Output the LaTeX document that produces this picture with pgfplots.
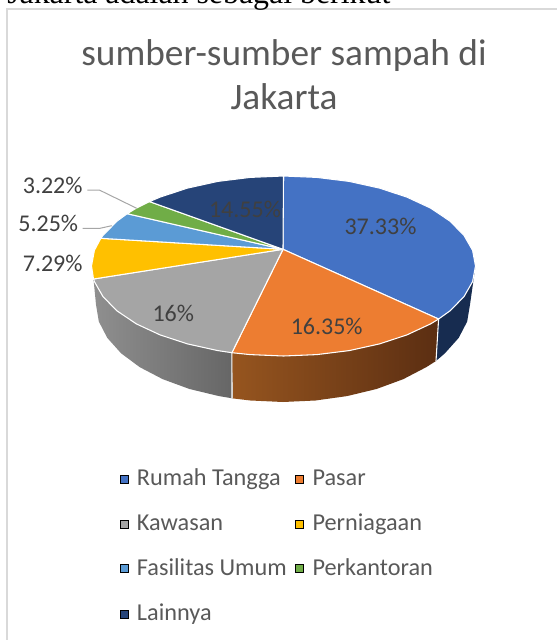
\documentclass[border=0pt]{standalone}
\usepackage{pgfplots}
\pgfplotsset{compat=1.18}
\usepackage{fontspec}
\setmainfont{Carlito}
\newfontfamily\bodyserif{Liberation Serif}
\definecolor{cBlue}{HTML}{4472C4}
\definecolor{cOrange}{HTML}{ED7D31}
\definecolor{cGray}{HTML}{A5A5A5}
\definecolor{cYellow}{HTML}{FFC000}
\definecolor{cSky}{HTML}{5B9BD5}
\definecolor{cGreen}{HTML}{70AD47}
\definecolor{cNavy}{HTML}{264478}
\definecolor{cTitle}{HTML}{595959}
\definecolor{cLabel}{HTML}{404040}
\definecolor{cLeader}{HTML}{A6A6A6}
\definecolor{cFrame}{HTML}{D9D9D9}
\definecolor{cSideB}{HTML}{172C50}
\definecolor{cOrL}{HTML}{96551F}
\definecolor{cOrM}{HTML}{6B3814}
\definecolor{cOrR}{HTML}{5B2E12}
\definecolor{cGrL}{HTML}{8F8F8F}
\definecolor{cGrR}{HTML}{666666}
\tikzset{
  wedge/.style={draw=white, line width=0.8pt, line join=round},
  lab/.style={font=\fontsize{18pt}{20pt}\selectfont, text=cLabel, inner sep=0pt},
  leg/.style={font=\fontsize{18.2pt}{20pt}\selectfont, text=cTitle, inner sep=0pt, anchor=base west},
  tit/.style={font=\fontsize{28pt}{30pt}\selectfont, text=cTitle, inner sep=0pt, anchor=base},
}
\begin{document}
\begin{tikzpicture}
\path[use as bounding box] (0,0) rectangle (417.75pt,480pt);
\clip (0,0) rectangle (417.75pt,480pt);
\begin{axis}[
  at={(0,0)}, anchor=south west,
  scale only axis, width=417.75pt, height=480pt,
  xmin=0, xmax=557, ymin=0, ymax=640, y dir=reverse,
  hide axis, clip=false,
]
% chart frame
\addplot[draw=cFrame, line width=1.5pt] coordinates {(7,640) (7,9.2) (557,9.2)};
% side walls
\addplot[fill=cSideB, draw=none] coordinates {
 (475.5,266) (472.6,281.6) (463.9,296.8) (449.8,311) (438.6,319)
 (436,361) (444.9,353.3) (458.7,337.9) (467.2,321.5) (470,304.6)} -- cycle;
\addplot[draw=none, left color=cOrL, middle color=cOrM, right color=cOrR] coordinates {
 (438.6,319) (430.6,323.9) (406.9,334.9) (379.5,343.9) (349.2,350.6) (316.8,354.6) (283.5,356) (250.2,354.6) (231.9,352.7)
 (232.7,398.4) (250.5,400.5) (283,402) (315.5,400.5) (347,396.1) (376.5,389) (403.2,379.2) (426.2,367.2) (436,361)} -- cycle;
\addplot[draw=none, left color=cGrL, right color=cGrR] coordinates {
 (231.9,352.7) (217.8,350.6) (187.5,343.9) (160.1,334.9) (136.4,323.9) (117.2,311) (103.1,296.8) (94.4,281.6) (93.5,279)
 (96,304.6) (98.8,321.5) (107.3,337.9) (121.1,353.3) (139.8,367.2) (162.8,379.2) (189.5,389) (219,396.1) (232.7,398.4)} -- cycle;
\addplot[white, line width=0.8pt] coordinates {(231.9,352.7) (232,398)};
\addplot[white, line width=0.8pt] coordinates {(438.6,319) (436,361)};
% top faces
\addplot[wedge, fill=cBlue] coordinates {(283,249.3) (283.5,176) (316.8,177.4) (349.2,181.4) (379.5,188.1) (406.9,197.1) (430.6,208.1) (449.8,221) (463.9,235.2) (472.6,250.4) (475.5,266) (472.6,281.6) (463.9,296.8) (449.8,311) (438.6,319)} -- cycle;
\addplot[wedge, fill=cOrange] coordinates {(283,249.3) (438.6,319) (430.6,323.9) (406.9,334.9) (379.5,343.9) (349.2,350.6) (316.8,354.6) (283.5,356) (250.2,354.6) (231.9,352.7)} -- cycle;
\addplot[wedge, fill=cGray] coordinates {(283,249.3) (231.9,352.7) (217.8,350.6) (187.5,343.9) (160.1,334.9) (136.4,323.9) (117.2,311) (103.1,296.8) (94.4,281.6) (93.5,279)} -- cycle;
\addplot[wedge, fill=cYellow] coordinates {(283,249.3) (93.5,279) (91.5,266) (94.4,250.4) (100.8,238.3)} -- cycle;
\addplot[wedge, fill=cSky] coordinates {(283,249.3) (100.8,238.3) (103.1,235.2) (117.2,221) (127.2,213.7)} -- cycle;
\addplot[wedge, fill=cGreen] coordinates {(283,249.3) (127.2,213.7) (136.4,208.1) (149.5,201.6)} -- cycle;
\addplot[wedge, fill=cNavy] coordinates {(283,249.3) (149.5,201.6) (160.1,197.1) (187.5,188.1) (217.8,181.4) (250.2,177.4) (283.5,176)} -- cycle;
% leaders
\addplot[cLeader, line width=0.75pt] coordinates {(87.3,190) (99.3,190) (136.7,208.3)};
\addplot[cLeader, line width=0.75pt] coordinates {(82.7,228.3) (100,228.3) (111.7,225.7)};
% legend markers
\addplot[only marks, mark=square*, mark size=3pt, mark options={draw=none, fill=cBlue}] coordinates {(124,479)};
\addplot[only marks, mark=square*, mark size=3pt, mark options={draw=none, fill=cOrange}] coordinates {(299.5,479)};
\addplot[only marks, mark=square*, mark size=3pt, mark options={draw=none, fill=cGray}] coordinates {(124,524)};
\addplot[only marks, mark=square*, mark size=3pt, mark options={draw=none, fill=cYellow}] coordinates {(299.5,524)};
\addplot[only marks, mark=square*, mark size=3pt, mark options={draw=none, fill=cSky}] coordinates {(124,568.3)};
\addplot[only marks, mark=square*, mark size=3pt, mark options={draw=none, fill=cGreen}] coordinates {(299.5,568.3)};
\addplot[only marks, mark=square*, mark size=3pt, mark options={draw=none, fill=cNavy}] coordinates {(124,614)};
% texts
\node[anchor=base west, inner sep=0pt, text=black, font=\bodyserif\fontsize{23.9pt}{26pt}\selectfont] at (axis cs:7,3) {Jakarta adalah sebagai berikut};
\node[tit] at (axis cs:284,65) {sumber-sumber sampah di};
\node[tit] at (axis cs:284,109.5) {Jakarta};
\node[lab] at (axis cs:380.5,226.7) {37.33\%};
\node[lab] at (axis cs:326.7,326.7) {16.35\%};
\node[lab] at (axis cs:173.3,313.3) {16\%};
\node[lab] at (axis cs:52.7,263.3) {7.29\%};
\node[lab] at (axis cs:48.3,223.3) {5.25\%};
\node[lab] at (axis cs:52.7,185) {3.22\%};
\node[lab] at (axis cs:245,209.3) {14.55\%};
\node[leg] at (axis cs:136.7,485.7) {Rumah Tangga};
\node[leg] at (axis cs:312.3,485.7) {Pasar};
\node[leg] at (axis cs:136.7,530.7) {Kawasan};
\node[leg] at (axis cs:312.3,530.7) {Perniagaan};
\node[leg] at (axis cs:136.7,575.7) {Fasilitas Umum};
\node[leg] at (axis cs:312.3,575.7) {Perkantoran};
\node[leg] at (axis cs:136.7,620.7) {Lainnya};
\end{axis}
\end{tikzpicture}
\end{document}
